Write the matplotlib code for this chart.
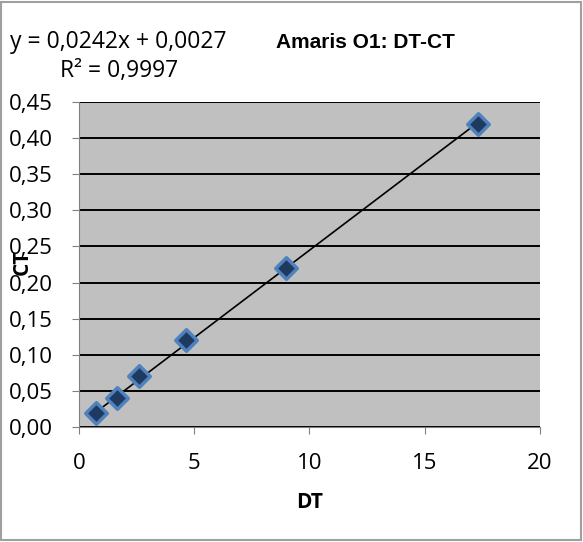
import matplotlib

matplotlib.use("Agg")
import matplotlib.pyplot as plt
from matplotlib.patches import Rectangle
from matplotlib.ticker import FuncFormatter

dt = [0.75, 1.65, 2.6, 4.65, 9.0, 17.3]
ct = [0.02, 0.04, 0.07, 0.12, 0.22, 0.42]
slope, intercept = 0.0242, 0.0027

plt.rcParams["font.family"] = ["Open Sans", "DejaVu Sans"]

fig = plt.figure(figsize=(5.83, 5.42), dpi=100)
ax = fig.add_axes([0.1355, 0.2122, 0.926 - 0.1355, 0.8118 - 0.2122])
ax.set_facecolor("#c0c0c0")

ax.set_xlim(0, 20)
ax.set_ylim(0, 0.45)
ax.set_yticks([i * 0.05 for i in range(10)])
ax.set_xticks([0, 5, 10, 15, 20])
ax.yaxis.set_major_formatter(FuncFormatter(lambda v, p: f"{v:.2f}".replace(".", ",")))
ax.grid(axis="y", color="black", linewidth=1.4)
ax.set_axisbelow(True)
for s in ["top", "right"]:
    ax.spines[s].set_visible(False)
ax.spines["left"].set_color("#808080")
ax.spines["bottom"].set_color("#808080")
ax.tick_params(axis="both", colors="#808080", labelcolor="black", labelsize=16,
               length=5, pad=14)

# linear trendline
xs = [dt[0], dt[-1]]
ax.plot(xs, [slope * x + intercept for x in xs], color="black", linewidth=1.2, zorder=3)
ax.scatter(dt, ct, marker="D", s=120, facecolor="#1f3a60", edgecolor="#4f81bd",
           linewidth=2.5, zorder=4)

ax.set_xlabel("DT", fontsize=15, fontweight="bold")
ax.xaxis.set_label_coords(0.5, -0.231)
ax.xaxis.label.set_verticalalignment("center")
ax.set_ylabel("CT", fontsize=15, fontweight="bold")
ax.yaxis.set_label_coords(-0.124, 0.508)
ax.yaxis.label.set_verticalalignment("center")

fig.text(0.627, 0.9225, "Amaris O1: DT-CT", fontsize=15, fontweight="bold",
         family="Liberation Sans", ha="center", va="center")
fig.text(0.017, 0.922, "y = 0,0242x + 0,0027", fontsize=16.5, va="center")
fig.text(0.103, 0.869, "R² = 0,9997", fontsize=16.5, va="center")

fig.patches.append(Rectangle((0.002, 0.003), 0.994, 0.993, transform=fig.transFigure,
                             fill=False, edgecolor="#a0a0a0", linewidth=1.5))

fig.savefig("out.png", dpi=100)
